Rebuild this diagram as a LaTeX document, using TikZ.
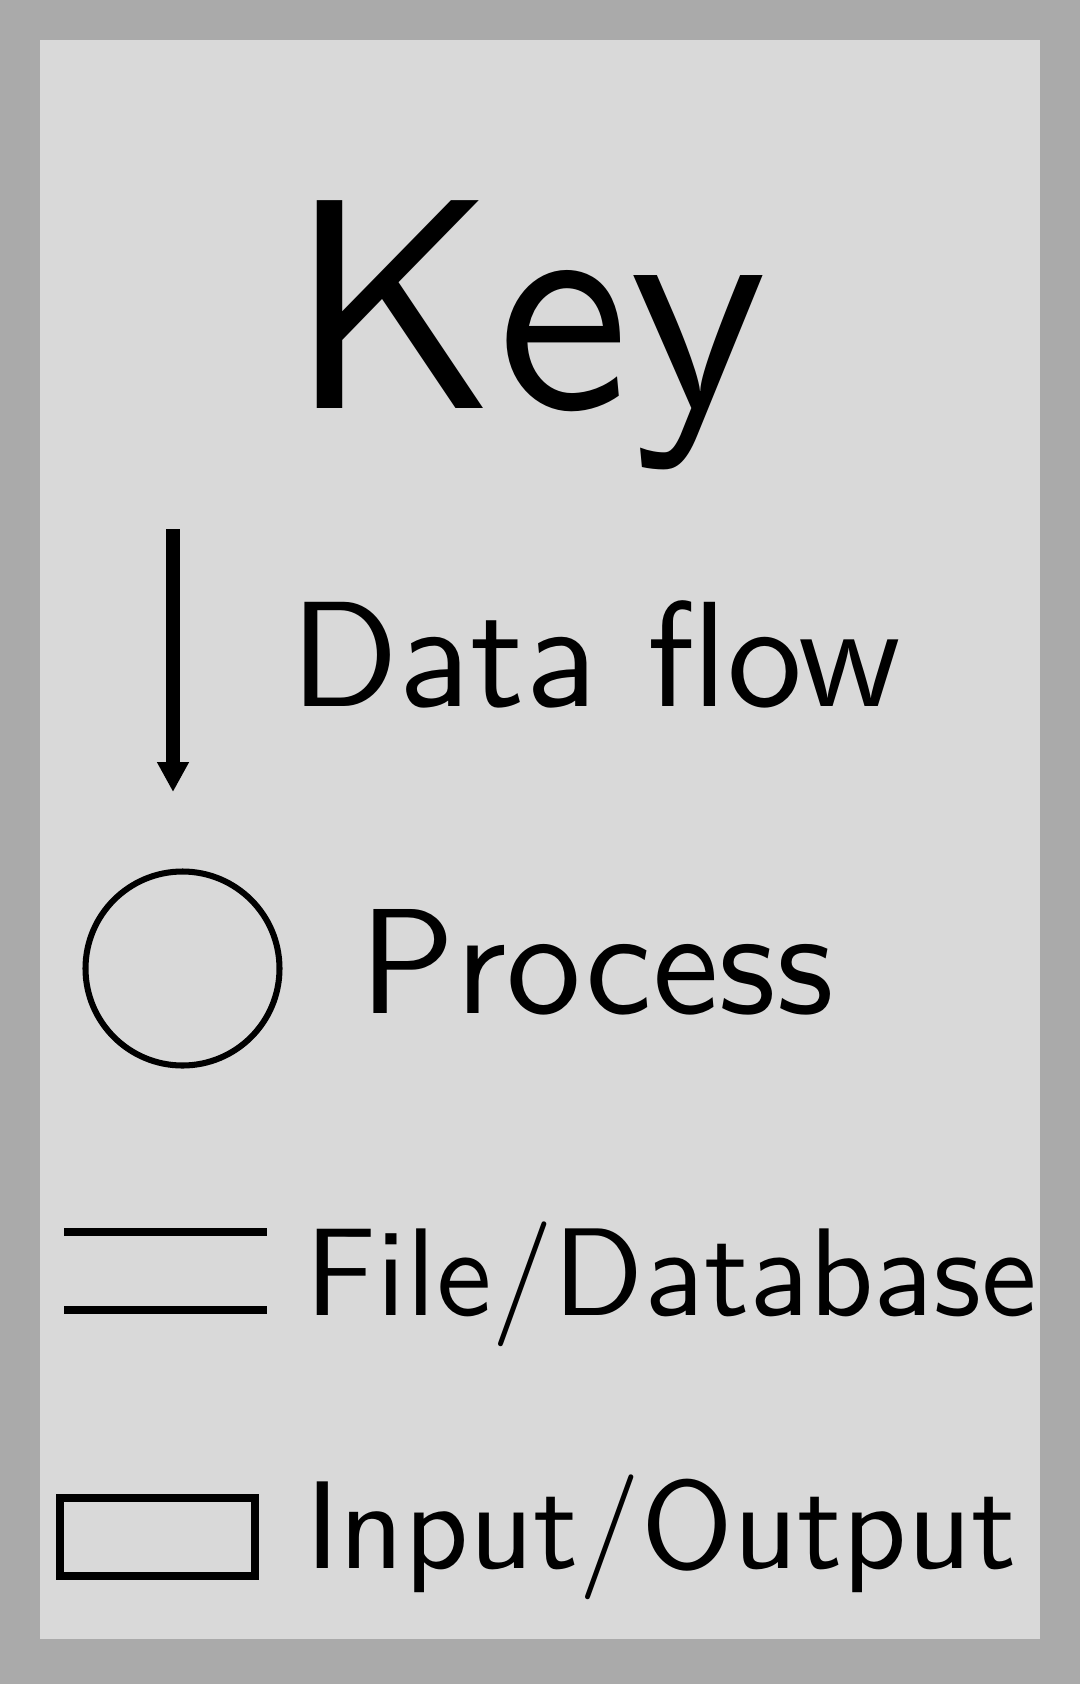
\documentclass[tikz,border=0pt]{standalone}
\usepackage{fontspec}
\usetikzlibrary{arrows.meta}
\newfontfamily\lmsansten{lmsans10-regular.otf}
\definecolor{outergray}{HTML}{AAAAAA}
\definecolor{innergray}{HTML}{D9D9D9}
\tikzset{
  lbl/.style={anchor=base west, inner sep=0pt},
  keyline/.style={line width=5.7pt},
}
\begin{document}
\begin{tikzpicture}[x=0.025cm, y=-0.025cm]
\fill[outergray] (0,0) rectangle (1080,1684);
\fill[innergray] (40,40) rectangle (1040,1639);
\useasboundingbox (0,0) rectangle (1080,1684);
% title
\node[lbl, font=\lmsansten\fontsize{213}{213}\selectfont] (title) at (288,408) {Key};
% data flow
\coordinate (a1) at (173,529);
\coordinate (a2) at (173,792);
\draw[line width=10pt, -{Triangle[width=21.3pt,length=21.3pt]}] (a1) -- (a2);
\node[lbl, font=\lmsansten\fontsize{106.8}{106.8}\selectfont] (flow) at (290,706) {Data flow};
% process
\node[draw, circle, line width=4.3pt, minimum size=194*0.025cm, inner sep=0pt] (proc) at (182.5,968.5) {};
\node[lbl, font=\lmsansten\fontsize{106.6}{106.6}\selectfont] (proctext) at (359,1013) {Process};
% file/database
\coordinate (l1a) at (64,1232);
\coordinate (l1b) at (267,1232);
\coordinate (l2a) at (64,1310);
\coordinate (l2b) at (267,1310);
\draw[keyline] (l1a) -- (l1b);
\draw[keyline] (l2a) -- (l2b);
\node[lbl, font=\lmsansten\fontsize{88.8}{88.8}\selectfont] (filetext) at (305,1315) {File/Database};
% input/output
\node[draw, rectangle, line width=5.7pt, minimum width=195*0.025cm, minimum height=78*0.025cm, inner sep=0pt] (io) at (157.5,1537) {};
\node[lbl, font=\lmsansten\fontsize{88.8}{88.8}\selectfont] (iotext) at (305,1568) {Input/Output};
\end{tikzpicture}
\end{document}
